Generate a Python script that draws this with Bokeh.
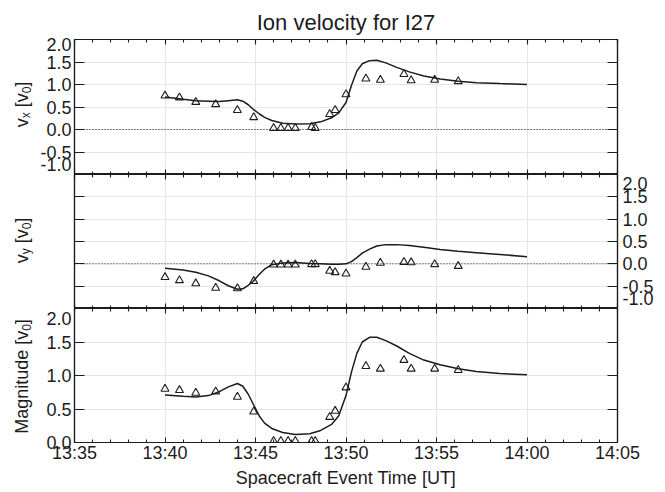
import math
from bokeh.plotting import figure
from bokeh.models import LinearAxis, FixedTicker, Span, Label, Range1d
from bokeh.layouts import column, row
from bokeh.embed import file_html
from bokeh.resources import INLINE

# ---------------- data ----------------
title_text = "Ion velocity for I27"
x_title = "Spacecraft Event Time [UT]"

# time in minutes after 13:00 UT
x_tick_values = [35, 40, 45, 50, 55, 60, 65]
x_tick_labels = ["13:35", "13:40", "13:45", "13:50", "13:55", "14:00", "14:05"]
x_minor_values = list(range(35, 66))

vel_tick_values = [-1.0, -0.5, 0.0, 0.5, 1.0, 1.5, 2.0]
vel_tick_labels = ["-1.0", "-0.5", "0.0", "0.5", "1.0", "1.5", "2.0"]
mag_tick_values = [0.0, 0.5, 1.0, 1.5, 2.0]
mag_tick_labels = ["0.0", "0.5", "1.0", "1.5", "2.0"]

# observed ion velocities (triangles)
t_obs = [40.0, 40.8, 41.7, 42.8, 44.0, 44.9, 46.0, 46.4, 46.8, 47.2, 48.1,
         48.3, 49.1, 49.4, 50.0, 51.1, 51.9, 53.2, 53.6, 54.9, 56.2]
vx_obs = [0.75, 0.71, 0.61, 0.56, 0.43, 0.27, 0.03, 0.03, 0.03, 0.03, 0.05,
          0.03, 0.34, 0.43, 0.78, 1.13, 1.10, 1.23, 1.09, 1.10, 1.07]
vy_obs = [-0.30, -0.37, -0.44, -0.54, -0.55, -0.39, -0.02, -0.02, -0.02, -0.02, -0.01,
          -0.01, -0.16, -0.19, -0.22, -0.07, 0.02, 0.04, 0.03, -0.01, -0.05]
mag_obs = [0.80, 0.78, 0.74, 0.76, 0.68, 0.46, 0.02, 0.02, 0.02, 0.02, 0.02,
           0.02, 0.38, 0.47, 0.82, 1.14, 1.10, 1.23, 1.10, 1.10, 1.08]

# model curves (solid lines)
t_model = [40.0, 41.0, 41.7, 42.4, 43.0, 43.5, 44.0, 44.3, 44.6, 44.9, 45.2, 45.5,
           45.9, 46.5, 47.2, 48.0, 48.6, 49.2, 49.6, 50.0, 50.3, 50.6, 50.9, 51.3,
           51.7, 52.2, 52.8, 53.5, 54.3, 55.2, 56.2, 57.2, 58.5, 60.0]
vx_model = [0.72, 0.67, 0.64, 0.63, 0.62, 0.64, 0.66, 0.63, 0.55, 0.44, 0.35, 0.27,
            0.20, 0.14, 0.12, 0.13, 0.17, 0.26, 0.37, 0.60, 0.98, 1.30, 1.46, 1.53,
            1.54, 1.48, 1.38, 1.28, 1.19, 1.12, 1.07, 1.04, 1.02, 1.00]
vy_model = [-0.10, -0.14, -0.19, -0.27, -0.38, -0.49, -0.57, -0.56, -0.48, -0.38, -0.24, -0.12,
            -0.02, 0.02, 0.03, 0.01, 0.00, -0.01, -0.01, 0.00, 0.05, 0.14, 0.24, 0.33,
            0.40, 0.43, 0.43, 0.41, 0.37, 0.32, 0.28, 0.25, 0.21, 0.16]
mag_model = [0.71, 0.69, 0.68, 0.70, 0.76, 0.83, 0.88, 0.84, 0.72, 0.56, 0.40, 0.29,
             0.21, 0.15, 0.12, 0.13, 0.18, 0.27, 0.40, 0.70, 1.05, 1.33, 1.50, 1.57,
             1.57, 1.52, 1.44, 1.33, 1.23, 1.16, 1.10, 1.06, 1.03, 1.01]

# ---------------- style / layout ----------------
FONT = "Liberation Sans"
INK = "#1c1c1c"
STRIP_W = 37                 # narrow strip holding the rotated y titles
LEFT, RIGHT = 35, 40
FRAME_W = 545
W = LEFT + FRAME_W + RIGHT
TOP = 39
H1, H2, H3 = 135, 134, 134
BOTTOM = 48
TOTAL_H = TOP + H1 + H2 + H3 + BOTTOM
TICK_FS = "18px"
YTITLE_BASE_X = 21.5         # anchor of the rotated y titles inside the strip
SUB_SHIFT = 4                # subscript shift (below the baseline)
YTITLE_CENTERS = [104, 240, 376]

xr = Range1d(35, 65)

# Arial/Liberation advance widths (1/1000 em) for the y-axis titles
CW = {"v": 500, "x": 500, "y": 500, " ": 278, "[": 278, "]": 278, "0": 556,
      "M": 833, "a": 556, "g": 556, "n": 556, "i": 222, "t": 278, "u": 556,
      "d": 556, "e": 556}


def tw(s, fs):
    return sum(CW[c] for c in s) * fs / 1000.0


def make_panel(yr, height, top, bottom):
    p = figure(width=W, height=height, x_range=xr, y_range=yr,
               x_axis_location=None, y_axis_location=None,
               output_backend="svg", toolbar_location=None,
               min_border_left=LEFT, min_border_right=RIGHT,
               min_border_top=top, min_border_bottom=bottom,
               background_fill_color="white", border_fill_color="white")
    p.outline_line_color = INK
    p.outline_line_width = 1.2
    return p


def tick_axis(p, side, positions, length):
    """Axis that only draws inward tick marks (no labels)."""
    ax = LinearAxis(ticker=FixedTicker(ticks=[], minor_ticks=positions))
    ax.axis_line_color = INK
    ax.axis_line_width = 1.2
    ax.minor_tick_in = length
    ax.minor_tick_out = 0
    ax.major_tick_in = 0
    ax.major_tick_out = 0
    ax.minor_tick_line_color = INK
    ax.minor_tick_line_width = 1.1
    ax.major_label_standoff = 0
    p.add_layout(ax, side)
    return ax


def label_axis(p, side, ticks, labels, px_per_unit, nudges, standoff):
    """Axis that only draws the tick labels (edge labels kept inside the panel)."""
    pos = [v + nudges.get(v, 0.0) / px_per_unit for v in ticks]
    ax = LinearAxis(ticker=FixedTicker(ticks=pos, minor_ticks=[]),
                    major_label_overrides=dict(zip(pos, labels)))
    ax.axis_line_color = None
    ax.major_tick_line_color = None
    ax.minor_tick_line_color = None
    ax.major_tick_in = 0
    ax.major_tick_out = 0
    ax.major_label_text_font = FONT
    ax.major_label_text_font_size = TICK_FS
    ax.major_label_text_color = INK
    ax.major_label_standoff = standoff
    p.add_layout(ax, side)
    return ax


def x_ticks(p, side):
    tick_axis(p, side, x_tick_values, 5)
    tick_axis(p, side, x_minor_values, 3)


def draw(p, model, obs):
    p.add_layout(Span(location=0, dimension="width", line_dash="1 2",
                      line_color=INK, line_width=1))
    p.line(t_model, model, line_color=INK, line_width=1.5)
    p.scatter(t_obs, obs, marker="triangle", size=8, fill_color=None,
              line_color=INK, line_width=1.1)


# ---------------- panel 1 : vx ----------------
p1 = make_panel(Range1d(-1.0, 2.0), TOP + H1, TOP, 0)
p1.title.text = title_text
p1.title.align = "center"
p1.title.text_font = FONT
p1.title.text_font_size = "22px"
p1.title.text_font_style = "normal"
p1.title.text_color = INK
p1.title.standoff = 9
tick_axis(p1, "left", vel_tick_values, 10)
label_axis(p1, "left", vel_tick_values, vel_tick_labels, H1 / 3.0, {2.0: -5.0, -1.0: 10.5}, 3)
tick_axis(p1, "right", vel_tick_values, 10)
x_ticks(p1, "above")
x_ticks(p1, "below")
draw(p1, vx_model, vx_obs)

# ---------------- panel 2 : vy ----------------
p2 = make_panel(Range1d(-1.0, 2.0), H2, 0, 0)
tick_axis(p2, "left", vel_tick_values, 10)
tick_axis(p2, "right", vel_tick_values, 10)
label_axis(p2, "right", vel_tick_values, vel_tick_labels, H2 / 3.0, {2.0: -9.0, -1.0: 10.5}, 5)
x_ticks(p2, "above")
x_ticks(p2, "below")
draw(p2, vy_model, vy_obs)

# ---------------- panel 3 : magnitude ----------------
p3 = make_panel(Range1d(0.0, 2.0), H3 + BOTTOM, 0, BOTTOM)
tick_axis(p3, "left", mag_tick_values, 10)
label_axis(p3, "left", mag_tick_values, mag_tick_labels, H3 / 2.0, {2.0: -9.5}, 3)
tick_axis(p3, "right", mag_tick_values, 10)
x_ticks(p3, "above")
xb = LinearAxis(ticker=FixedTicker(ticks=x_tick_values, minor_ticks=x_minor_values),
                major_label_overrides=dict(zip(x_tick_values, x_tick_labels)))
xb.axis_line_color = INK
xb.axis_line_width = 1.2
xb.major_tick_in = 5
xb.major_tick_out = 0
xb.minor_tick_in = 3
xb.minor_tick_out = 0
xb.major_tick_line_color = INK
xb.minor_tick_line_color = INK
xb.major_label_text_font = FONT
xb.major_label_text_font_size = TICK_FS
xb.major_label_text_color = INK
xb.major_label_standoff = 0
xb.axis_label = x_title
xb.axis_label_text_font = FONT
xb.axis_label_text_font_size = "18px"
xb.axis_label_text_font_style = "normal"
xb.axis_label_text_color = INK
xb.axis_label_standoff = 2
p3.add_layout(xb, "below")
draw(p3, mag_model, mag_obs)

# ---------------- strip with the rotated y titles ----------------
strip = figure(width=STRIP_W, height=TOTAL_H, x_range=Range1d(0, STRIP_W),
               y_range=Range1d(TOTAL_H, 0), x_axis_location=None, y_axis_location=None,
               output_backend="svg", toolbar_location=None,
               min_border_left=0, min_border_right=0, min_border_top=0, min_border_bottom=0,
               background_fill_color="white", border_fill_color="white")
strip.outline_line_color = None
strip.grid.visible = False

y_titles = [
    [("v", 18, False, 0), ("x", 12, True, 0), ("[v", 18, False, 5.0), ("0", 12, True, 0), ("]", 18, False, 0)],
    [("v", 18, False, 0), ("y", 12, True, 0), ("[v", 18, False, 5.0), ("0", 12, True, 0), ("]", 18, False, 0)],
    [("Magnitude", 18, False, 0), ("[v", 18, False, 5.0), ("0", 12, True, 0), ("]", 18, False, 0)],
]
for pieces, yc in zip(y_titles, YTITLE_CENTERS):
    total = sum(tw(t, fs) + gap for t, fs, sub, gap in pieces)
    off = -total / 2.0
    for t, fs, sub, gap in pieces:
        off += gap
        strip.add_layout(Label(x=YTITLE_BASE_X, y=yc, text=t, angle=math.pi / 2,
                               text_font=FONT, text_font_size=f"{fs}px", text_color=INK,
                               text_align="left", text_baseline="alphabetic",
                               x_offset=SUB_SHIFT if sub else 0, y_offset=off))
        off += tw(t, fs)

layout = row(strip, column(p1, p2, p3))
open("out.html", "w").write(file_html(layout, INLINE))
